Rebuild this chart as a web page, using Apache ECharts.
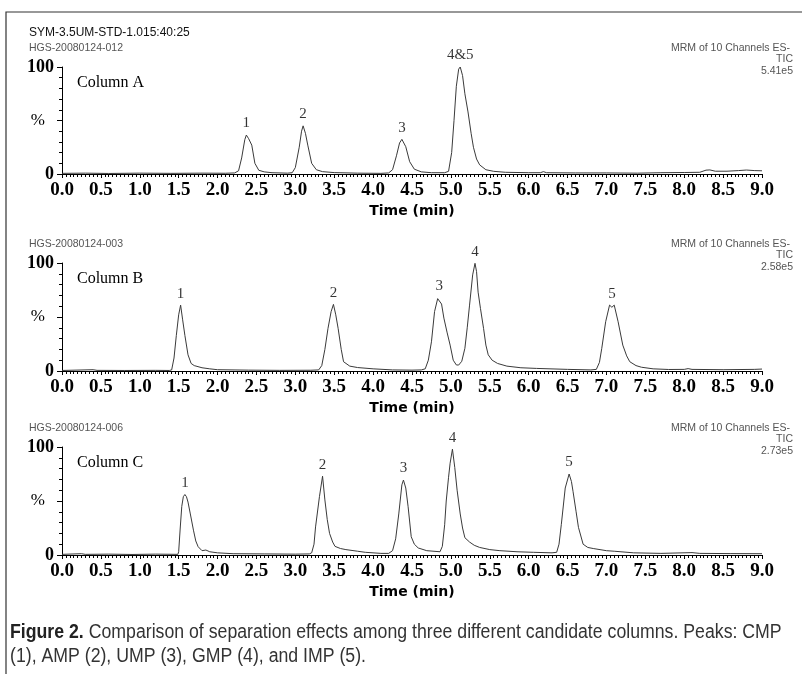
<!DOCTYPE html>
<html><head><meta charset="utf-8">
<script src="https://cdn.jsdelivr.net/npm/echarts@6/dist/echarts.min.js"></script>
<style>html,body{margin:0;padding:0;background:#fff}#c{width:802px;height:674px}</style>
</head><body><div id="c"></div>
<script>
// ---- data (time in min, relative intensity %) ----
const traceA = [[0,0.6],[0.3,0.8],[0.6,0.5],[1.0,0.8],[1.4,0.6],[1.8,0.8],[2.1,0.7],[2.22,1],[2.27,3],[2.31,15],[2.35,32],[2.37,36.4],[2.40,33],[2.44,27],[2.48,10],[2.53,3.5],[2.6,2],[2.7,1.2],[2.9,0.8],[2.96,1.2],[3.00,6],[3.05,25],[3.08,40],[3.10,45],[3.13,38],[3.16,27],[3.21,10],[3.27,4],[3.35,2.2],[3.5,1.3],[3.8,0.8],[4.1,0.6],[4.2,1],[4.25,4],[4.30,17],[4.34,29],[4.37,32.4],[4.42,25.5],[4.47,11.5],[4.53,4.5],[4.62,2],[4.75,1.2],[4.92,1.2],[4.97,2.5],[5.01,20],[5.04,50],[5.07,82],[5.10,98],[5.12,100],[5.15,92],[5.18,75],[5.22,58],[5.26,38],[5.29,25],[5.33,14],[5.37,8.5],[5.45,4],[5.55,2.5],[5.7,1.6],[6.0,1.2],[6.15,1.2],[6.19,2.2],[6.23,1.2],[6.6,1],[7.0,1],[7.4,0.8],[7.7,1.2],[8.0,1.4],[8.2,1.6],[8.28,3.6],[8.33,3.8],[8.4,2.6],[8.55,2.6],[8.7,3.2],[8.8,3.7],[8.9,3.2],[9.0,3]];
const traceB = [[0,0.5],[0.4,1.2],[0.45,0.6],[0.8,0.5],[1.2,0.6],[1.38,0.5],[1.41,1],[1.44,12],[1.47,33],[1.50,52],[1.525,61],[1.55,48],[1.58,33],[1.62,15],[1.66,7],[1.70,5],[1.8,3],[1.9,2],[2.0,1.2],[2.4,0.8],[2.8,0.6],[3.2,0.7],[3.30,1],[3.34,5],[3.38,20],[3.42,39.5],[3.46,55],[3.49,61.7],[3.52,52],[3.55,39.5],[3.59,20],[3.62,8.6],[3.7,4.5],[3.8,3.2],[4.0,2],[4.25,1],[4.5,0.8],[4.62,1],[4.67,2],[4.71,10],[4.75,27],[4.79,55],[4.83,67],[4.85,68],[4.88,62],[4.91,49],[4.95,36],[4.99,24],[5.03,10],[5.07,5.6],[5.10,5.5],[5.14,9],[5.18,21],[5.21,40],[5.24,61],[5.28,89],[5.31,99.7],[5.33,92],[5.35,73],[5.38,58],[5.42,39.5],[5.45,24],[5.48,15],[5.53,10],[5.6,7],[5.72,4.5],[5.9,3],[6.1,2.4],[6.5,1.5],[6.8,1],[6.87,1.5],[6.91,8],[6.94,21],[6.99,45.6],[7.04,61],[7.07,59],[7.10,61],[7.15,45.6],[7.21,24],[7.26,14],[7.30,8.6],[7.38,5],[7.45,3.5],[7.6,2],[7.8,1.4],[8.0,1.5],[8.05,2.2],[8.1,1.5],[8.5,1.2],[8.9,1.5],[9.0,1.8]];
const traceC = [[0,0.6],[0.25,1.2],[0.3,0.6],[0.6,0.8],[0.9,0.5],[1.2,0.8],[1.49,0.6],[1.50,3],[1.52,25],[1.54,45],[1.56,54],[1.58,56],[1.60,54],[1.62,49],[1.65,38],[1.69,23],[1.72,13],[1.75,7.7],[1.8,4],[1.85,4.6],[1.9,3],[2.0,2],[2.2,1.2],[2.6,1],[3.0,0.8],[3.18,1],[3.21,2],[3.24,10],[3.26,26],[3.31,54],[3.35,73],[3.38,51],[3.41,33],[3.44,20],[3.48,12],[3.51,8],[3.58,6],[3.65,5],[3.8,3.5],[3.9,2.5],[4.1,1.5],[4.2,1.5],[4.25,4],[4.29,15],[4.33,38],[4.37,65],[4.39,69.4],[4.42,62],[4.45,44.7],[4.49,16.9],[4.53,10],[4.58,6.5],[4.69,4],[4.86,3],[4.89,8],[4.92,28],[4.94,50],[4.97,72],[4.99,85],[5.02,98],[5.05,81],[5.08,60],[5.12,38],[5.15,25],[5.18,16],[5.24,12],[5.3,9],[5.37,7],[5.5,5],[5.63,4],[5.85,3],[6.06,2.5],[6.3,2],[6.36,2.5],[6.39,10],[6.42,28.4],[6.47,62],[6.52,75],[6.55,68],[6.57,59],[6.61,40],[6.64,25.6],[6.70,10],[6.76,7],[6.83,6],[7.0,4],[7.1,3.5],[7.35,2],[7.7,1.5],[8.1,2.2],[8.2,1.5],[8.6,1.3],[9.0,1.2]];

const peaksA = [[2.37,36.4,'1'],[3.10,45,'2'],[4.37,32.4,'3'],[5.12,100,'4&5']];
const peaksB = [[1.525,61,'1'],[3.49,61.7,'2'],[4.85,68,'3'],[5.31,99.7,'4'],[7.07,61,'5']];
const peaksC = [[1.58,56,'1'],[3.35,73,'2'],[4.39,69.4,'3'],[5.02,98,'4'],[6.52,75,'5']];

const columnNames = ['Column A','Column B','Column C'];
const sampleIds = ['HGS-20080124-012','HGS-20080124-003','HGS-20080124-006'];
const scaleValues = ['5.41e5','2.58e5','2.73e5'];
const yTickLabels = {0:'0',50:'%',100:'100'};
const xMin = 0, xMax = 9, xStep = 0.5;
const headerTitle = 'SYM-3.5UM-STD-1.015:40:25';
const channelText = 'MRM of 10 Channels ES-';
const captionBold = 'Figure 2.';
const captionLine1 = ' Comparison of separation effects among three different candidate columns. Peaks: CMP';
const captionLine2 = '(1), AMP (2), UMP (3), GMP (4), and IMP (5).';

// ---- layout ----
const traces = [traceA, traceB, traceC];
const peaks = [peaksA, peaksB, peaksC];
const grids = [
  {left:62, width:700, top:67, height:107},
  {left:62, width:700, top:263, height:108},
  {left:62, width:700, top:447, height:108}
];
const serif = '"Liberation Serif","Times New Roman",serif';
const sans = '"Liberation Sans",Arial,sans-serif';

const xAxes = grids.map((g,i)=>({
  type:'value', gridIndex:i, min:xMin, max:xMax, interval:xStep,
  axisLine:{lineStyle:{color:'#000',width:1}},
  axisTick:{show:true,length:4,lineStyle:{color:'#000'}},
  minorTick:{show:true,splitNumber:10,length:3,lineStyle:{color:'#000'}},
  splitLine:{show:false},
  axisLabel:{formatter:v=>v.toFixed(1),fontFamily:serif,fontWeight:'bold',fontSize:19,color:'#000',margin:7,showMinLabel:true,showMaxLabel:true},
  name:'Time (min)', nameLocation:'middle', nameGap:30,
  nameTextStyle:{fontFamily:'"DejaVu Sans",Verdana,sans-serif',fontWeight:'bold',fontSize:14,color:'#000'}
}));
const yAxes = grids.map((g,i)=>({
  type:'value', gridIndex:i, min:0, max:100, interval:50,
  axisLine:{show:true,lineStyle:{color:'#000',width:1}},
  axisTick:{show:true,length:5,lineStyle:{color:'#000'}},
  minorTick:{show:true,splitNumber:5,length:3,lineStyle:{color:'#000'}},
  splitLine:{show:false},
  axisLabel:{margin:8,formatter:v=>{const t=yTickLabels[v]; return t==='%'?'{p|%}':'{b|'+t+'}';},
    rich:{b:{fontFamily:serif,fontWeight:'bold',fontSize:18,color:'#000'},
          p:{fontFamily:serif,fontSize:17,color:'#000',padding:[0,9,0,0]}}}
}));

const series = [];
traces.forEach((tr,i)=>{
  series.push({type:'line', xAxisIndex:i, yAxisIndex:i, data:tr, showSymbol:false, symbol:'none',
    lineStyle:{color:'#3a3a3a',width:1}, silent:true, animation:false});
  series.push({type:'scatter', xAxisIndex:i, yAxisIndex:i, symbolSize:0, silent:true, animation:false,
    data:peaks[i].map(p=>({value:[p[0],p[1]],name:p[2]})),
    label:{show:true,position:'top',distance:4,formatter:p=>p.name,fontFamily:serif,fontSize:15,color:'#000'}});
});

const graphic = [
  {type:'polyline', shape:{points:[[6,674],[6,12],[802,12]]}, style:{stroke:'#333',lineWidth:1.2,fill:null}},
  {type:'text', x:29, y:33, style:{text:headerTitle, font:'12px '+sans, fill:'#111', textVerticalAlign:'middle'}}
];
const hdrY = [48,244,428];
grids.forEach((g,i)=>{
  graphic.push({type:'text', x:29, y:hdrY[i], style:{text:sampleIds[i], font:'10.5px '+sans, fill:'#555', textVerticalAlign:'middle'}});
  graphic.push({type:'text', x:790, y:hdrY[i], style:{text:channelText, font:'10.5px '+sans, fill:'#555', textAlign:'right', textVerticalAlign:'middle'}});
  graphic.push({type:'text', x:793, y:hdrY[i]+11.5, style:{text:'TIC', font:'10.5px '+sans, fill:'#555', textAlign:'right', textVerticalAlign:'middle'}});
  graphic.push({type:'text', x:793, y:hdrY[i]+23.5, style:{text:scaleValues[i], font:'10.5px '+sans, fill:'#555', textAlign:'right', textVerticalAlign:'middle'}});
  graphic.push({type:'text', x:77, y:g.top+16, style:{text:columnNames[i], font:'16px '+serif, fill:'#000', textVerticalAlign:'middle'}});
});
const capFont = '"Liberation Sans",Arial,sans-serif';
graphic.push({type:'text', x:10, y:632, scaleX:0.885, originX:0, originY:0, style:{
  text:'{b|'+captionBold+'}{n|'+captionLine1+'}', textVerticalAlign:'middle',
  rich:{b:{fontFamily:capFont,fontWeight:'bold',fontSize:20,fill:'#222'},n:{fontFamily:capFont,fontSize:20,fill:'#333'}}}});
graphic.push({type:'text', x:10, y:656, scaleX:0.885, originX:0, originY:0, style:{text:captionLine2, font:'20px '+capFont, fill:'#333', textVerticalAlign:'middle'}});

const chart = echarts.init(document.getElementById('c'), null, {renderer:'canvas'});
chart.setOption({animation:false, backgroundColor:'#fff', grid:grids, xAxis:xAxes, yAxis:yAxes, series, graphic});
</script></body></html>
